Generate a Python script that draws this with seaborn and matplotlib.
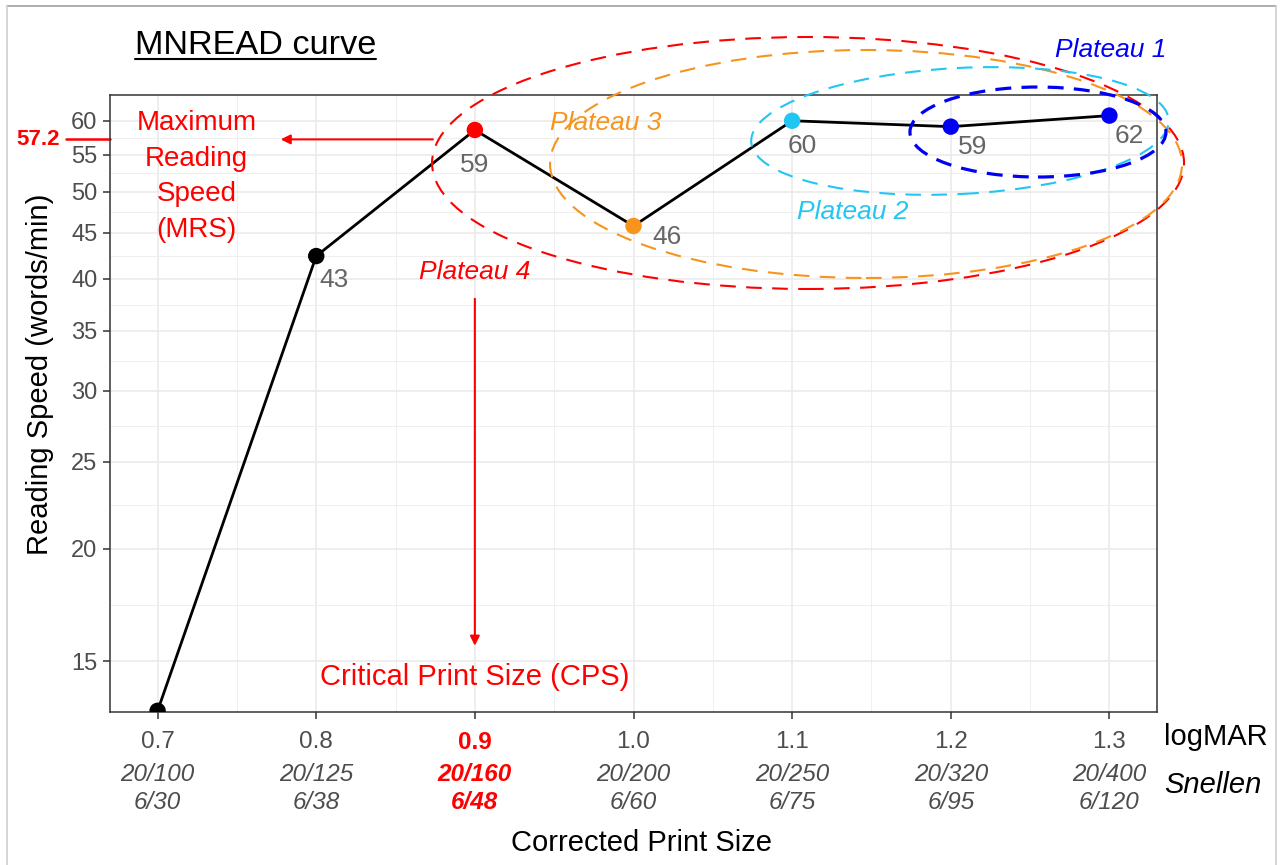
import numpy as np
import pandas as pd
import matplotlib
matplotlib.use("Agg")
import matplotlib.pyplot as plt
import matplotlib.transforms as mtransforms
from matplotlib.patches import Ellipse
from matplotlib.lines import Line2D
from matplotlib.ticker import FixedLocator, NullFormatter
import seaborn as sns

# values
logmar = [0.7, 0.8, 0.9, 1.0, 1.1, 1.2, 1.3]
reading_speed = [13.2, 42.4, 58.6, 45.8, 60.0, 59.1, 60.8]
speed_labels = ["", "43", "59", "46", "60", "59", "62"]
point_group = ["other", "other", "cps", "plateau3", "plateau2", "plateau1", "plateau1"]
logmar_labels = ["0.7", "0.8", "0.9", "1.0", "1.1", "1.2", "1.3"]
snellen_us = ["20/100", "20/125", "20/160", "20/200", "20/250", "20/320", "20/400"]
snellen_metric = ["6/30", "6/38", "6/48", "6/60", "6/75", "6/95", "6/120"]
y_breaks = [15, 20, 25, 30, 35, 40, 45, 50, 55, 60]
mrs = 57.2
cps = 0.9

RED = "#FF0000"
ORANGE = "#F7941E"
CYAN = "#22C6F2"
BLUE = "#0000F5"
colors = {"other": "black", "cps": RED, "plateau3": ORANGE, "plateau2": CYAN, "plateau1": BLUE}

df = pd.DataFrame({"logmar": logmar, "speed": reading_speed, "group": point_group})

sns.set_theme(style="whitegrid")
plt.rcParams["font.family"] = ["Liberation Sans", "DejaVu Sans"]

W, H = 1283, 865
fig = plt.figure(figsize=(W / 100, H / 100), dpi=100)
ax = fig.add_axes([110 / W, (H - 712) / H, 1047 / W, 617 / H])
ax.set_facecolor("white")

ax.set_yscale("log")
sns.lineplot(data=df, x="logmar", y="speed", color="black", lw=2.0, ax=ax, zorder=4)
sns.scatterplot(data=df, x="logmar", y="speed", hue="group", palette=colors,
                s=140, linewidth=0, legend=False, ax=ax, zorder=5)

ax.set_xlim(0.67, 1.33)
ax.set_ylim(13.16, 64.1)

# axes, ticks and grid
ax.set_xticks(logmar)
ax.set_xticklabels(logmar_labels)
ax.xaxis.set_minor_locator(FixedLocator([0.75, 0.85, 0.95, 1.05, 1.15, 1.25]))
ax.yaxis.set_major_locator(FixedLocator(y_breaks))
ax.set_yticklabels([str(v) for v in y_breaks])
mids = [np.sqrt(a * b) for a, b in zip(y_breaks[:-1], y_breaks[1:])]
ax.yaxis.set_minor_locator(FixedLocator(mids))
ax.yaxis.set_minor_formatter(NullFormatter())
ax.grid(which="major", color="#EBEBEB", lw=1.2)
ax.grid(which="minor", color="#EFEFEF", lw=0.7)
ax.tick_params(axis="both", which="major", bottom=True, left=True, length=5, width=1.1,
               color="#333333", labelsize=17, labelcolor="#4D4D4D")
ax.tick_params(axis="x", pad=9, labelsize=17.5)
ax.tick_params(axis="y", pad=4)
ax.tick_params(which="minor", length=0)
for sp in ax.spines.values():
    sp.set_color("#333333")
    sp.set_linewidth(1.1)

for lab, val in zip(ax.get_xticklabels(), logmar):
    if abs(val - cps) < 1e-9:
        lab.set_color(RED)
        lab.set_fontweight("bold")
for tk, val in zip(ax.xaxis.get_major_ticks(), logmar):
    if abs(val - cps) < 1e-9:
        tk.tick1line.set_color(RED)

xblend = mtransforms.blended_transform_factory(ax.transData, ax.transAxes)
for x, us, met in zip(logmar, snellen_us, snellen_metric):
    is_cps = abs(x - cps) < 1e-9
    kw = dict(transform=xblend, ha="center", va="center", fontsize=17.5, style="italic",
              color=RED if is_cps else "#4D4D4D", fontweight="bold" if is_cps else "normal",
              clip_on=False)
    ax.text(x, -0.1005, us, **kw)
    ax.text(x, -0.1460, met, **kw)

ax.text(1.0067, -0.0405, "logMAR", transform=ax.transAxes, ha="left", va="center",
        fontsize=21, color="black")
ax.text(1.0067, -0.1183, "Snellen", transform=ax.transAxes, ha="left", va="center",
        fontsize=21, style="italic", color="black")

ax.set_xlabel("Corrected Print Size", fontsize=21, color="black")
ax.xaxis.set_label_coords(0.508, -0.2123)
ax.xaxis.label.set_va("center")
ax.set_ylabel("Reading Speed (words/min)", fontsize=21, color="black")
ax.yaxis.set_label_coords(-0.0669, 0.5478)
ax.yaxis.label.set_va("center")

# value labels next to the points
label_offsets = [(0, 0), (13, -17), (0, -25), (24, -8), (7, -18), (16, -14.5), (14.5, -15)]
for x, y, txt, off in zip(logmar, reading_speed, speed_labels, label_offsets):
    if txt:
        ax.annotate(txt, (x, y), xytext=off, textcoords="offset points", ha="center",
                    va="center", fontsize=19, color="#666666", zorder=6)

# maximum reading speed marker on the y axis
yblend = mtransforms.blended_transform_factory(ax.transAxes, ax.transData)
ax.plot([-0.042, 0], [mrs, mrs], color=RED, lw=1.8, transform=yblend, clip_on=False)
ax.text(-0.0478, mrs, str(mrs), transform=yblend, ha="right", va="center", fontsize=16,
        fontweight="bold", color=RED)
ax.annotate("", xy=(0.7776, mrs), xytext=(0.8735, mrs),
            arrowprops=dict(arrowstyle="-|>", color=RED, lw=1.5, mutation_scale=14,
                            shrinkA=0, shrinkB=0))
ax.text(0.7246, 52.0, "Maximum\nReading\nSpeed\n(MRS)", ha="center", va="center",
        fontsize=20, color=RED, linespacing=1.48)

# critical print size
ax.annotate("", xy=(cps, 15.6), xytext=(cps, 38.0),
            arrowprops=dict(arrowstyle="-|>", color=RED, lw=1.5, mutation_scale=14,
                            shrinkA=0, shrinkB=0))
ax.text(cps, 14.4, "Critical Print Size (CPS)", ha="center", va="center", fontsize=21,
        color=RED)

# plateau ellipses (centre in axes fraction, size in pixels)
def plateau_ellipse(cx, cy, w, h, color, lw=1.5, dash=(7.5, 5), angle=0):
    trans = fig.dpi_scale_trans + mtransforms.ScaledTranslation(cx, cy, ax.transAxes)
    e = Ellipse((0, 0), w / 100, h / 100, angle=angle, transform=trans, fill=False,
                edgecolor=color, lw=lw, linestyle=(0, dash), clip_on=False, zorder=3)
    fig.add_artist(e)

plateau_ellipse(0.6667, 0.8898, 752, 252, RED)
plateau_ellipse(0.7221, 0.8882, 632, 228, ORANGE)
plateau_ellipse(0.8118, 0.9417, 418, 126, CYAN, angle=3)
plateau_ellipse(0.8863, 0.9400, 256, 90, BLUE, lw=2.3, dash=(5, 3.2))

ax.text(cps, 40.7, "Plateau 4", ha="center", va="center", fontsize=19, style="italic", color=RED)
ax.text(0.9826, 59.7, "Plateau 3", ha="center", va="center", fontsize=19, style="italic", color=ORANGE)
ax.text(1.1379, 47.5, "Plateau 2", ha="center", va="center", fontsize=19, style="italic", color=CYAN)
ax.text(1.3006, 72.0, "Plateau 1", ha="center", va="center", fontsize=19, style="italic",
        color=BLUE, clip_on=False)

# title with underline
title = fig.text(135 / W, 1 - 45 / H, "MNREAD curve", ha="left", va="center",
                 fontsize=24.7, color="black")
fig.canvas.draw()
bb = title.get_window_extent(fig.canvas.get_renderer())
fig.add_artist(Line2D([bb.x0 / W, bb.x1 / W], [1 - 59 / H, 1 - 59 / H],
                      transform=fig.transFigure, color="black", lw=1.5))

# thin frame around the figure
fig.add_artist(Line2D([7 / W, 1276 / W], [1 - 6 / H, 1 - 6 / H], transform=fig.transFigure,
                      color="#A0A0A0", lw=1.2))
fig.add_artist(Line2D([7 / W, 7 / W], [0, 1 - 6 / H], transform=fig.transFigure,
                      color="#D0D0D0", lw=1.2))
fig.add_artist(Line2D([1276 / W, 1276 / W], [0, 1 - 6 / H], transform=fig.transFigure,
                      color="#D0D0D0", lw=1.2))

fig.savefig("out.png", dpi=100)
